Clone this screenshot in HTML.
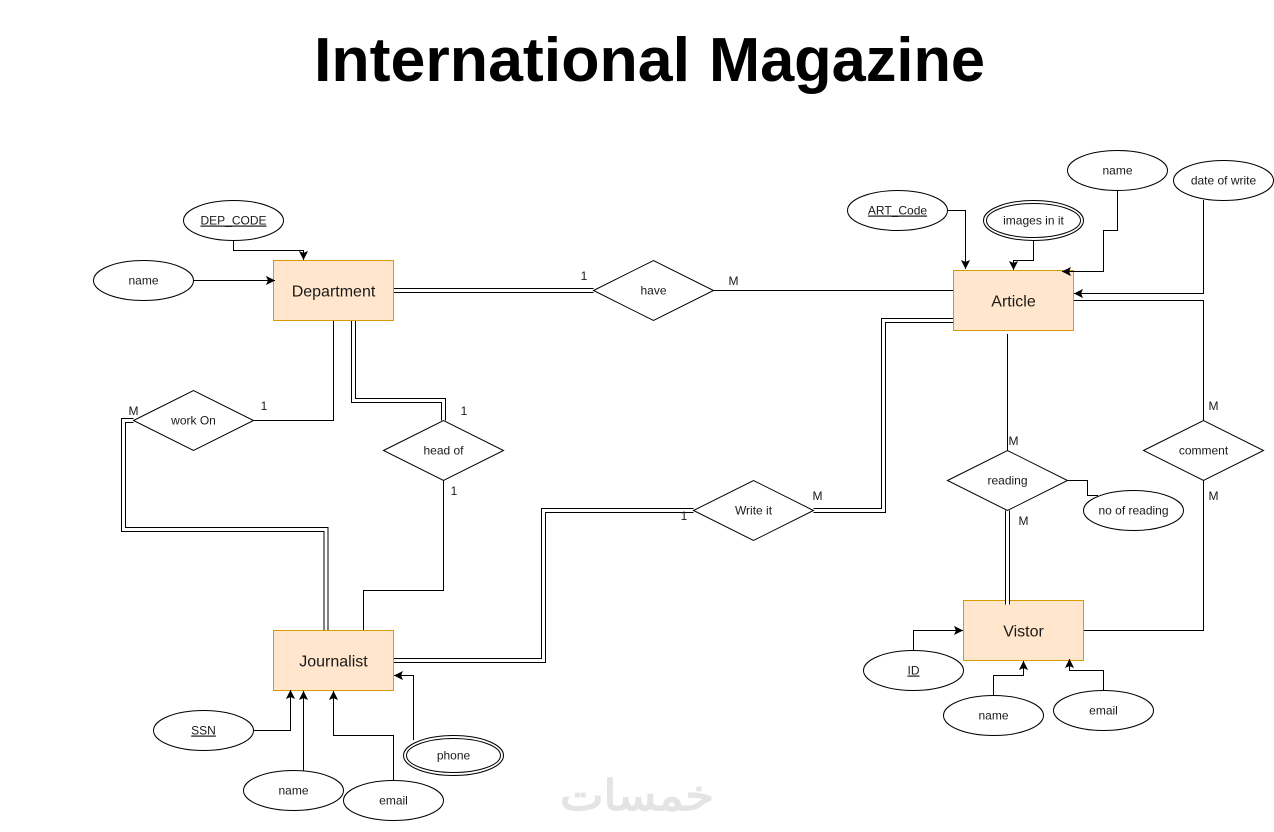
<!DOCTYPE html>
<html>
<head>
<meta charset="utf-8">
<title>International Magazine</title>
<style>
html,body{margin:0;padding:0;background:#fff;width:1274px;height:832px;overflow:hidden}
svg{display:block}
text{font-family:"Liberation Sans",Arial,sans-serif;font-size:12px;fill:#1a1a1a;text-anchor:middle}
.e{fill:#ffe6cc;stroke:#d79b00;stroke-width:1}
.s{fill:#fff;stroke:#000;stroke-width:1}
.l{fill:none;stroke:#000;stroke-width:1}
.a{fill:none;stroke:#000;stroke-width:1;marker-end:url(#arr)}
.d1{fill:none;stroke:#000;stroke-width:5}
.d2{fill:none;stroke:#fff;stroke-width:3}
.big{font-size:16px}
.u{text-decoration:underline}
.t{font-size:62px;font-weight:bold;fill:#000;text-anchor:start}
</style>
</head>
<body>
<svg width="1274" height="832" viewBox="0 0 1274 832" xmlns="http://www.w3.org/2000/svg">
<defs>
<marker id="arr" markerUnits="userSpaceOnUse" markerWidth="12" markerHeight="12" refX="9" refY="5" orient="auto" overflow="visible">
<path d="M1,1.5 L8,5 L1,8.5 L2.5,5 Z" fill="#000" stroke="#000" stroke-width="1"/>
</marker>
</defs>

<text class="t" x="314" y="81" textLength="376" lengthAdjust="spacingAndGlyphs">International</text>
<text class="t" x="709" y="81" textLength="276" lengthAdjust="spacingAndGlyphs">Magazine</text>

<text x="637" y="810" textLength="154" lengthAdjust="spacingAndGlyphs" style="font-family:'DejaVu Sans',sans-serif;font-size:42px;fill:#e4e4e4;stroke:#e4e4e4;stroke-width:1.5" direction="rtl">خمسات</text>

<!-- plain connectors -->
<path class="l" d="M713.5 290.5H953.5"/>
<path class="l" d="M333.5 320.5V420.5H253.5"/>
<path class="l" d="M443.5 480.5V590.5H363.5V630.5"/>
<path class="l" d="M1007.5 334V450.5"/>
<path class="l" d="M1067.5 480.5H1087.5V495.5H1098"/>
<path class="l" d="M1073.5 300.5H1203.5V420.5"/>
<path class="l" d="M1203.5 480.5V630.5H1083.5"/>

<!-- double connectors -->
<path class="d1" d="M393 290.5H593.5"/><path class="d2" d="M393 290.5H593.5"/>
<path class="d1" d="M353.5 320V400.5H443.5V420.5"/><path class="d2" d="M353.5 320V400.5H443.5V420.5"/>
<path class="d1" d="M133.5 420.5H123.5V529.5H326V630.5"/><path class="d2" d="M133.5 420.5H123.5V529.5H326V630.5"/>
<path class="d1" d="M393.5 660.5H543.5V510.5H693.5"/><path class="d2" d="M393.5 660.5H543.5V510.5H693.5"/>
<path class="d1" d="M813.5 510.5H883.5V320.5H953.5"/><path class="d2" d="M813.5 510.5H883.5V320.5H953.5"/>

<!-- entities -->
<rect class="e" x="273.5" y="260.5" width="120" height="60"/>
<text class="big" x="333.5" y="296.5">Department</text>
<rect class="e" x="953.5" y="270.5" width="120" height="60"/>
<text class="big" x="1013.5" y="306.5">Article</text>
<rect class="e" x="273.5" y="630.5" width="120" height="60"/>
<text class="big" x="333.5" y="666.5">Journalist</text>
<rect class="e" x="963.5" y="600.5" width="120" height="60"/>
<text class="big" x="1023.5" y="636.5">Vistor</text>

<path class="d1" d="M1007.5 510.5V604.5"/><path class="d2" d="M1007.5 510V604.5"/>

<!-- arrows -->
<path class="a" d="M233.5 240.5V250.5H303.5V260"/>
<path class="a" d="M193.5 280.5H275"/>
<path class="a" d="M947.5 210.5H965.5V269"/>
<path class="a" d="M1033.5 240.5V260.5H1013.5V270"/>
<path class="a" d="M1117.5 190.5V230.5H1103.5V271.5H1062"/>
<path class="a" d="M1203.5 200V293.5H1074"/>
<path class="a" d="M913.5 650.5V630.5H963"/>
<path class="a" d="M993.5 695.5V675.5H1023.5V661"/>
<path class="a" d="M1103.5 690.5V670.5H1069.5V659"/>
<path class="a" d="M253.5 730.5H290.5V690"/>
<path class="a" d="M303.5 770.5V691"/>
<path class="a" d="M393.5 780.5V735.5H333.5V691"/>
<path class="a" d="M413.5 740V675.5H394"/>

<!-- diamonds -->
<path class="s" d="M593.5 290.5L653.5 260.5L713.5 290.5L653.5 320.5Z"/><text x="653.5" y="294.5">have</text>
<path class="s" d="M693.5 510.5L753.5 480.5L813.5 510.5L753.5 540.5Z"/><text x="753.5" y="514.5">Write it</text>
<path class="s" d="M133.5 420.5L193.5 390.5L253.5 420.5L193.5 450.5Z"/><text x="193.5" y="424.5">work On</text>
<path class="s" d="M383.5 450.5L443.5 420.5L503.5 450.5L443.5 480.5Z"/><text x="443.5" y="454.5">head of</text>
<path class="s" d="M947.5 480.5L1007.5 450.5L1067.5 480.5L1007.5 510.5Z"/><text x="1007.5" y="484.5">reading</text>
<path class="s" d="M1143.5 450.5L1203.5 420.5L1263.5 450.5L1203.5 480.5Z"/><text x="1203.5" y="454.5">comment</text>

<!-- attributes -->
<ellipse class="s" cx="233.5" cy="220.5" rx="50" ry="20"/><text class="u" x="233.5" y="224.5">DEP_CODE</text>
<ellipse class="s" cx="143.5" cy="280.5" rx="50" ry="20"/><text x="143.5" y="284.5">name</text>
<ellipse class="s" cx="897.5" cy="210.5" rx="50" ry="20"/><text class="u" x="897.5" y="214.5">ART_Code</text>
<ellipse class="s" cx="1033.5" cy="220.5" rx="50" ry="20"/><ellipse class="s" cx="1033.5" cy="220.5" rx="47" ry="17"/><text x="1033.5" y="224.5">images in it</text>
<ellipse class="s" cx="1117.5" cy="170.5" rx="50" ry="20"/><text x="1117.5" y="174.5">name</text>
<ellipse class="s" cx="1223.5" cy="180.5" rx="50" ry="20"/><text x="1223.5" y="184.5">date of write</text>
<ellipse class="s" cx="1133.5" cy="510.5" rx="50" ry="20"/><text x="1133.5" y="514.5">no of reading</text>
<ellipse class="s" cx="913.5" cy="670.5" rx="50" ry="20"/><text class="u" x="913.5" y="674.5">ID</text>
<ellipse class="s" cx="993.5" cy="715.5" rx="50" ry="20"/><text x="993.5" y="719.5">name</text>
<ellipse class="s" cx="1103.5" cy="710.5" rx="50" ry="20"/><text x="1103.5" y="714.5">email</text>
<ellipse class="s" cx="203.5" cy="730.5" rx="50" ry="20"/><text class="u" x="203.5" y="734.5">SSN</text>
<ellipse class="s" cx="293.5" cy="790.5" rx="50" ry="20"/><text x="293.5" y="794.5">name</text>
<ellipse class="s" cx="393.5" cy="800.5" rx="50" ry="20"/><text x="393.5" y="804.5">email</text>
<ellipse class="s" cx="453.5" cy="755.5" rx="50" ry="20"/><ellipse class="s" cx="453.5" cy="755.5" rx="47" ry="17"/><text x="453.5" y="759.5">phone</text>

<!-- cardinalities -->
<text x="584" y="280">1</text>
<text x="733.5" y="285">M</text>
<text x="133.5" y="415">M</text>
<text x="264" y="410">1</text>
<text x="464" y="415">1</text>
<text x="454" y="495">1</text>
<text x="684" y="520">1</text>
<text x="817.5" y="500">M</text>
<text x="1013.5" y="445">M</text>
<text x="1023.5" y="525">M</text>
<text x="1213.5" y="410">M</text>
<text x="1213.5" y="500">M</text>
</svg>
</body>
</html>
